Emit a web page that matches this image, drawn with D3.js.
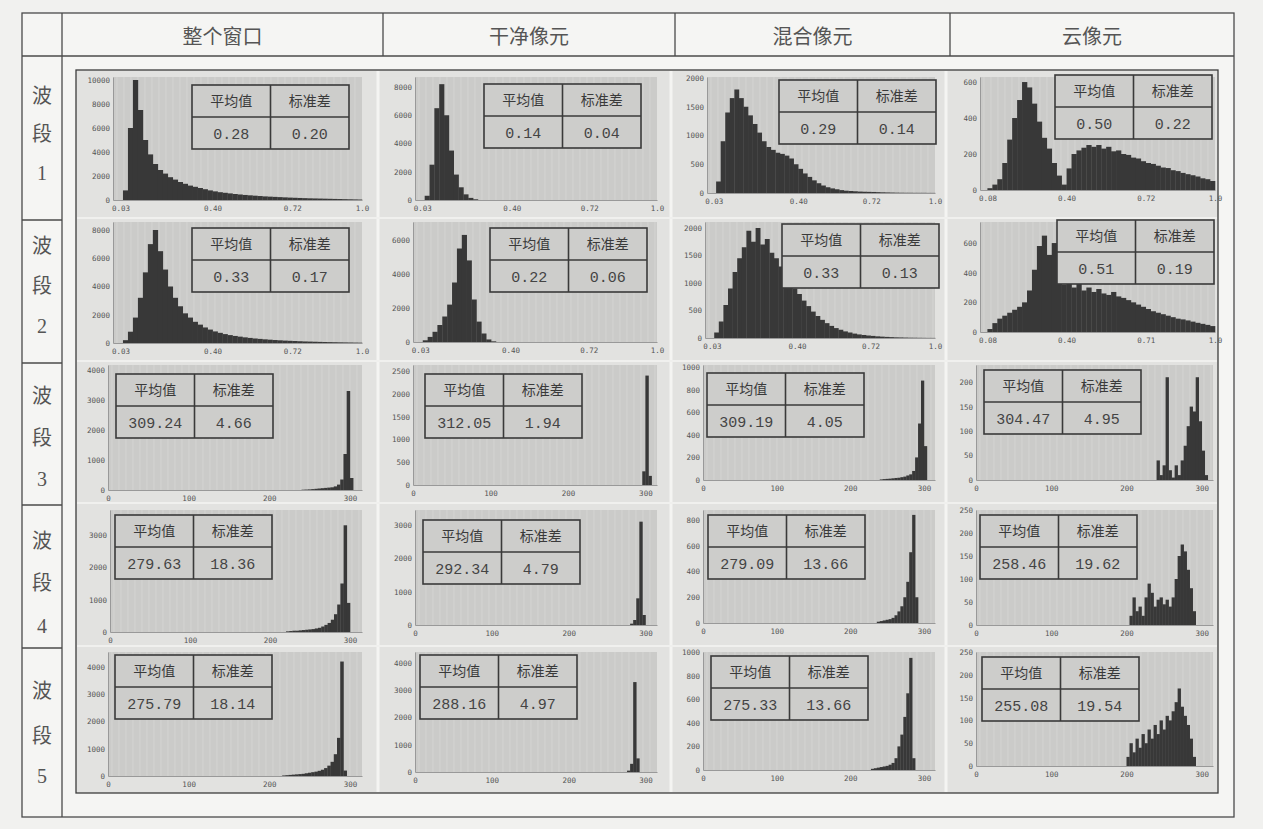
<!DOCTYPE html>
<html><head><meta charset="utf-8">
<script src="https://cdn.jsdelivr.net/npm/d3@7/dist/d3.min.js"></script>
<style>
html,body{margin:0;padding:0;background:#f1f1ef;}
svg{display:block;}
</style></head>
<body><svg id="c" width="1263" height="829"></svg>
<script>
// ---------- DATA ----------
const colNames = ["整个窗口","干净像元","混合像元","云像元"];
const rowNames = ["波段1","波段2","波段3","波段4","波段5"];
const statHead = ["平均值","标准差"];
const means = [[0.28,0.14,0.29,0.50],[0.33,0.22,0.33,0.51],[309.24,312.05,309.19,304.47],[279.63,292.34,279.09,258.46],[275.79,288.16,275.33,255.08]];
const stds  = [[0.20,0.04,0.14,0.22],[0.17,0.06,0.13,0.19],[4.66,1.94,4.05,4.95],[18.36,4.79,13.66,19.62],[18.14,4.97,13.66,19.54]];

// reflectance bins (start of bin, width 0.02)
const reflBins = [0.02,0.04,0.06,0.08,0.10,0.12,0.14,0.16,0.18,0.20,0.22,0.24,0.26,0.28,0.30,0.32,0.34,0.36,0.38,0.40,0.42,0.44,0.46,0.48,0.50,0.52,0.54,0.56,0.58,0.60,0.62,0.64,0.66,0.68,0.70,0.72,0.74,0.76,0.78,0.80,0.82,0.84,0.86,0.88,0.90,0.92,0.94,0.96,0.98];
// temperature bins (start of bin, width 4)
const tempBins = [200,204,208,212,216,220,224,228,232,236,240,244,248,252,256,260,264,268,272,276,280,284,288,292,296,300,304,308];

const b1Whole = [0,800,6000,10000,7500,5000,3800,3000,2500,2200,1900,1700,1500,1350,1200,1100,1000,900,800,720,650,600,550,500,460,420,390,360,330,300,280,260,240,220,200,185,170,155,140,130,120,110,100,90,80,70,60,50,40];
const b1Clean = [0,300,2500,6500,8200,6000,3500,1800,900,400,150,50,0,0,0,0,0,0,0,0,0,0,0,0,0,0,0,0,0,0,0,0,0,0,0,0,0,0,0,0,0,0,0,0,0,0,0,0,0];
const b1Mixed = [0,200,900,1400,1650,1800,1650,1500,1350,1200,1050,900,800,750,700,680,650,600,500,420,340,280,220,170,130,100,80,65,50,40,35,30,25,22,20,18,15,12,10,8,6,5,4,4,3,3,3,2,2];
const b1Cloud = [0,0,0,10,30,60,150,280,400,500,600,570,480,380,290,230,150,80,30,120,200,220,235,250,240,250,230,240,215,220,200,195,180,175,160,150,145,135,125,122,110,105,95,88,82,75,65,60,50];
const b2Whole = [0,200,800,1800,3200,5000,7000,8000,6500,5200,4000,3200,2600,2100,1800,1500,1300,1100,950,820,720,630,560,500,450,400,360,320,290,260,235,210,190,170,155,140,125,110,100,90,80,70,62,55,48,42,36,30,25];
const b2Clean = [0,100,300,600,1000,1500,2200,3500,5500,6300,4800,2500,1200,500,150,40,0,0,0,0,0,0,0,0,0,0,0,0,0,0,0,0,0,0,0,0,0,0,0,0,0,0,0,0,0,0,0,0,0];
const b2Mixed = [0,100,300,600,900,1200,1450,1650,1950,1750,2000,1700,1800,1550,1450,1300,1150,1050,900,800,680,580,480,400,330,270,220,180,150,120,100,80,65,55,45,38,30,25,20,16,12,10,8,6,5,4,3,2,2];
const b2Cloud = [0,0,0,20,60,90,110,130,150,170,200,280,420,580,650,520,600,400,320,350,300,330,280,300,270,290,260,250,270,240,230,215,200,185,170,155,140,130,120,110,100,90,85,78,70,62,55,48,40];
const b3Whole = [0,0,0,0,0,0,0,0,0,0,10,15,20,30,40,50,60,70,80,90,120,180,350,1200,3300,400,0,0];
const b3Clean = [0,0,0,0,0,0,0,0,0,0,0,0,0,0,0,0,0,0,0,0,0,0,0,0,300,2400,200,0];
const b3Mixed = [0,0,0,0,0,0,0,0,0,0,5,8,10,12,15,18,20,25,30,40,50,80,200,500,880,300,0,0];
const b3Cloud = [0,0,0,0,0,0,0,0,0,0,40,10,30,210,20,5,30,10,40,70,110,150,140,210,120,60,10,0];
const b4Whole = [0,0,0,0,0,20,30,40,40,50,60,70,80,90,110,130,170,220,280,380,550,850,1500,3300,900,0,0,0];
const b4Clean = [0,0,0,0,0,0,0,0,0,0,0,0,0,0,0,0,0,0,0,0,40,150,800,3100,300,0,0,0];
const b4Mixed = [0,0,0,0,0,0,0,0,0,10,15,20,25,30,40,60,90,130,200,320,550,840,200,0,0,0,0,0];
const b4Cloud = [0,20,60,30,40,20,60,90,70,40,55,60,45,55,40,60,100,150,175,160,120,80,30,0,0,0,0,0];
const b5Whole = [0,0,0,0,20,30,40,50,60,70,80,100,120,140,160,190,230,290,380,520,800,1400,4200,200,0,0,0,0];
const b5Clean = [0,0,0,0,0,0,0,0,0,0,0,0,0,0,0,0,0,0,0,50,300,3300,500,0,0,0,0,0];
const b5Mixed = [0,0,0,0,0,0,0,10,15,20,25,30,35,45,60,100,200,300,450,650,950,100,0,0,0,0,0,0];
const b5Cloud = [20,50,30,60,40,70,50,80,60,90,70,100,80,110,100,120,140,170,130,110,90,60,20,0,0,0,0,0];

const series = [
  [b1Whole,b1Clean,b1Mixed,b1Cloud],
  [b2Whole,b2Clean,b2Mixed,b2Cloud],
  [b3Whole,b3Clean,b3Mixed,b3Cloud],
  [b4Whole,b4Clean,b4Mixed,b4Cloud],
  [b5Whole,b5Clean,b5Mixed,b5Cloud]
];
const yTicks = [
  [[0,2000,4000,6000,8000,10000],[0,2000,4000,6000,8000],[0,500,1000,1500,2000],[0,200,400,600]],
  [[0,2000,4000,6000,8000],[0,2000,4000,6000],[0,500,1000,1500,2000],[0,200,400,600]],
  [[0,1000,2000,3000,4000],[0,500,1000,1500,2000,2500],[0,200,400,600,800,1000],[0,50,100,150,200]],
  [[0,1000,2000,3000],[0,1000,2000,3000],[0,200,400,600,800],[0,50,100,150,200,250]],
  [[0,1000,2000,3000,4000],[0,1000,2000,3000,4000],[0,200,400,600,800,1000],[0,50,100,150,200,250]]
];
const yMax = [
  [10250,8708,2017,628],
  [8566,7060,2109,742],
  [4167,2632,1018,235],
  [3773,3450,878,250],
  [4550,4404,1000,250]
];
const reflTicks = [0.03,0.40,0.72,1.0];
const reflTickLabels = ["0.03","0.40","0.72","1.0"];
const cloudTicksB1 = [0.08,0.40,0.72,1.0];
const cloudTickLabelsB1 = ["0.08","0.40","0.72","1.0"];
const cloudTickLabelsB2 = ["0.08","0.40","0.71","1.0"];
const tempTicks = [0,100,200,300];

// ---------- LAYOUT ----------
const plots = [
  [[113,77,362,200],[415,77,657,200],[707,77,935,193],[980,77,1215,190]],
  [[113,222,362,343],[413,222,657,342],[705,222,935,338],[980,222,1215,332]],
  [[108,365,362,490],[413,365,657,485],[703,365,935,480],[976,365,1213,480]],
  [[110,510,362,632],[415,510,657,625],[703,510,935,623],[976,510,1213,625]],
  [[108,652,362,776],[415,652,657,772],[703,652,935,770],[976,652,1213,766]]
];
const boxes = [
  [[192,85],[484,84],[779,80],[1055,75]],
  [[192,228],[490,228],[782,224],[1057,220]],
  [[116,374],[425,374],[707,373],[984,370]],
  [[115,515],[423,520],[708,515],[980,515]],
  [[115,655],[420,655],[711,656],[982,657]]
];
const boxW = 157, boxH = 64;
const colX = [22,62,383,675,950,1234];
const rowY = [13,56,220,363,505,648,817];

const svg = d3.select("#c");
const cjk = "'Noto Sans CJK SC','Noto Sans CJK JP',sans-serif";

// outer table
svg.append("rect").attr("x",colX[0]).attr("y",rowY[0]).attr("width",colX[5]-colX[0]).attr("height",rowY[6]-rowY[0])
  .attr("fill","#f5f5f3").attr("stroke","#4a4a4a").attr("stroke-width",1.3);
svg.append("line").attr("x1",colX[0]).attr("x2",colX[5]).attr("y1",rowY[1]).attr("y2",rowY[1]).attr("stroke","#4a4a4a").attr("stroke-width",1.3);
[1,2,3,4].forEach(i=>{
  svg.append("line").attr("x1",colX[i]).attr("x2",colX[i]).attr("y1",rowY[0]).attr("y2",i===1?rowY[6]:rowY[1]).attr("stroke","#4a4a4a").attr("stroke-width",1.3);
});
[2,3,4,5].forEach(i=>{
  svg.append("line").attr("x1",colX[0]).attr("x2",colX[1]).attr("y1",rowY[i]).attr("y2",rowY[i]).attr("stroke","#4a4a4a").attr("stroke-width",1.3);
});
// header texts
colNames.forEach((n,i)=>{
  svg.append("text").attr("x",(colX[i+1]+colX[i+2])/2).attr("y",44).attr("text-anchor","middle")
    .attr("font-family",cjk).attr("font-size",20).attr("fill","#555").text(n);
});
// row labels stacked
const rowLabelY = [[95,133,172],[245,285,325],[395,437,478],[540,582,625],[690,735,775]];
rowNames.forEach((n,r)=>{
  [n[0],n[1],n.slice(2)].forEach((ch,k)=>{
    svg.append("text").attr("x",(colX[0]+colX[1])/2).attr("y",rowLabelY[r][k]+8).attr("text-anchor","middle")
      .attr("font-family",k<2?cjk:"'Liberation Serif',serif").attr("font-size",20).attr("fill","#555").text(ch);
  });
});
// inner image frame
svg.append("rect").attr("x",76).attr("y",70).attr("width",1142).attr("height",723)
  .attr("fill","#e2e2e0").attr("stroke","#3c3c3c").attr("stroke-width",1.3);
[378,671,946].forEach(x=>{
  svg.append("line").attr("x1",x).attr("x2",x).attr("y1",71).attr("y2",792).attr("stroke","#f4f4f2").attr("stroke-width",3);
});
[218,361,503,646].forEach(y=>{
  svg.append("line").attr("x1",77).attr("x2",1217).attr("y1",y).attr("y2",y).attr("stroke","#f0f0ee").attr("stroke-width",2);
});

const tickFont = "'DejaVu Sans Mono',monospace";

for(let r=0;r<5;r++){
  for(let c=0;c<4;c++){
    const [x0,y0,x1,y1] = plots[r][c];
    const isRefl = r<2;
    const xDom = isRefl ? (c===3?[0.05,1.0]:[0,1.0]) : [0,315];
    const x = d3.scaleLinear().domain(xDom).range([x0,x1]);
    const y = d3.scaleLinear().domain([0,yMax[r][c]]).range([y1,y0]);
    const g = svg.append("g");
    g.append("rect").attr("x",x0).attr("y",y0).attr("width",x1-x0).attr("height",y1-y0).attr("fill","#cbcbc9");
    const stripes = d3.range(x0+4,x1,7);
    g.selectAll("line.s").data(stripes).enter().append("line")
      .attr("x1",d=>d).attr("x2",d=>d).attr("y1",y0).attr("y2",y1)
      .attr("stroke","#dadad8").attr("stroke-width",1).attr("opacity",0.7);
    const bins = isRefl ? reflBins : tempBins;
    const w = isRefl ? 0.02 : 4;
    const vals = series[r][c];
    const data = bins.map((b,i)=>({b, v: vals[i]})).filter(d=>d.v>0 && d.b>=xDom[0]-1e-9);
    g.selectAll("rect.bar").data(data).enter().append("rect")
      .attr("x",d=>x(d.b)).attr("width",d=>Math.max(0.5,x(d.b+w)-x(d.b)+0.3))
      .attr("y",d=>y(Math.min(d.v,yMax[r][c]))).attr("height",d=>y1-y(Math.min(d.v,yMax[r][c])))
      .attr("fill","#383838");
    const yAx = d3.axisLeft(y).tickValues(yTicks[r][c]).tickFormat(d3.format("d")).tickSize(0).tickPadding(3);
    const ya = g.append("g").attr("transform",`translate(${x0},0)`).call(yAx);
    ya.select(".domain").attr("stroke","#999");
    ya.selectAll("text").attr("font-family",tickFont).attr("font-size",7.5).attr("fill","#555");
    let xt, xl;
    if(isRefl){
      if(c===3){ xt = cloudTicksB1; xl = r===0?cloudTickLabelsB1:cloudTickLabelsB2; }
      else { xt = reflTicks; xl = reflTickLabels; }
    } else { xt = tempTicks; xl = tempTicks.map(String); }
    const xAx = d3.axisBottom(x).tickValues(xt).tickFormat((d,i)=>xl[i]).tickSize(0).tickPadding(6);
    const xa = g.append("g").attr("transform",`translate(0,${y1})`).call(xAx);
    xa.select(".domain").attr("stroke","#999");
    xa.selectAll("text").attr("font-family",tickFont).attr("font-size",7.5).attr("fill","#555");
    const [bx,by] = boxes[r][c];
    const bg = svg.append("g");
    bg.append("rect").attr("x",bx).attr("y",by).attr("width",boxW).attr("height",boxH)
      .attr("fill","#cdcdcb").attr("stroke","#3a3a3a").attr("stroke-width",1.6);
    bg.append("line").attr("x1",bx+boxW/2).attr("x2",bx+boxW/2).attr("y1",by).attr("y2",by+boxH).attr("stroke","#3a3a3a").attr("stroke-width",1.6);
    bg.append("line").attr("x1",bx).attr("x2",bx+boxW).attr("y1",by+boxH/2).attr("y2",by+boxH/2).attr("stroke","#3a3a3a").attr("stroke-width",1.6);
    statHead.forEach((h,k)=>{
      bg.append("text").attr("x",bx+boxW/4+k*boxW/2).attr("y",by+boxH/4+5).attr("text-anchor","middle")
        .attr("font-family",cjk).attr("font-size",14).attr("fill","#3a3a3a").text(h);
    });
    [means[r][c],stds[r][c]].forEach((v,k)=>{
      bg.append("text").attr("x",bx+boxW/4+k*boxW/2).attr("y",by+3*boxH/4+6).attr("text-anchor","middle")
        .attr("font-family","'Liberation Mono',monospace").attr("font-size",15).attr("fill","#444").text(v.toFixed(2));
    });
  }
}
</script></body></html>
